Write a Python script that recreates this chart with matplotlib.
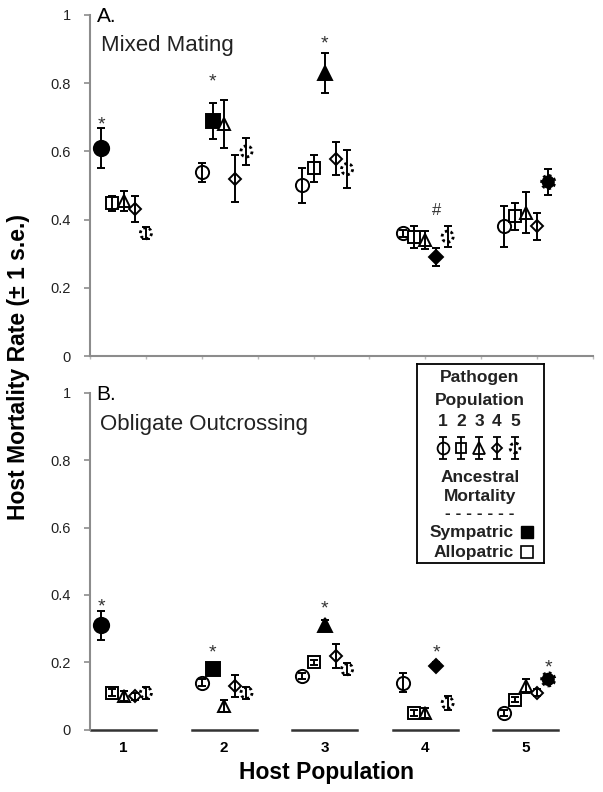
import numpy as np
import matplotlib
matplotlib.use('Agg')
import matplotlib.pyplot as plt

plt.rcParams['font.family'] = ['Liberation Sans', 'DejaVu Sans']

hosts = ['1', '2', '3', '4', '5']

# rows = host population, columns = pathogen population 1..5
mixed_mean = [
    [0.61, 0.448, 0.455, 0.43, 0.36],
    [0.539, 0.69, 0.68, 0.52, 0.60],
    [0.50, 0.55, 0.83, 0.579, 0.548],
    [0.36, 0.35, 0.34, 0.29, 0.35],
    [0.38, 0.41, 0.42, 0.38, 0.51],
]
mixed_se = [
    [0.058, 0.022, 0.03, 0.038, 0.017],
    [0.028, 0.053, 0.07, 0.068, 0.04],
    [0.052, 0.04, 0.058, 0.049, 0.055],
    [0.01, 0.032, 0.027, 0.027, 0.03],
    [0.06, 0.04, 0.06, 0.04, 0.039],
]
outc_mean = [
    [0.31, 0.11, 0.10, 0.10, 0.11],
    [0.14, 0.18, 0.07, 0.13, 0.11],
    [0.16, 0.20, 0.31, 0.22, 0.18],
    [0.14, 0.05, 0.05, 0.19, 0.08],
    [0.05, 0.09, 0.13, 0.11, 0.15],
]
outc_se = [
    [0.043, 0.01, 0.015, 0.01, 0.017],
    [0.01, 0.006, 0.018, 0.032, 0.018],
    [0.01, 0.006, 0.015, 0.036, 0.018],
    [0.028, 0.008, 0.015, 0.01, 0.02],
    [0.008, 0.008, 0.02, 0.01, 0.01],
]

# significance labels (above the sympatric point) and their heights
mixed_sig = ['*', '*', '*', '#', '']
mixed_sig_y = [0.695, 0.822, 0.933, 0.433, np.nan]
outc_sig = ['*', '*', '*', '*', '*']
outc_sig_y = [0.383, 0.245, 0.375, 0.247, 0.20]

markers = ['o', 's', '^', 'D', 'o']
msizes = [9.5, 8, 9, 6, 8]
GRAY = '#8c8c8c'
DOTS = (0, (1, 1.1))


def xpos(g, p):
    return g * 9 + p + 1


def draw_panel(ax, means, ses, sig, sig_y):
    for g in range(5):
        for p in range(5):
            x = xpos(g, p)
            y = means[g][p]
            filled = (g == p)
            fc = 'black' if filled else 'white'
            ms = msizes[p] + (1.5 if filled else 0)
            if p == 4:
                ax.scatter([x], [y], s=ms ** 2, marker='o', facecolors=fc,
                           edgecolors='black', linestyles=[DOTS],
                           linewidths=2.0, zorder=2)
            else:
                ax.plot([x], [y], marker=markers[p], ms=ms, mfc=fc, mec='black',
                        mew=1.4, ls='none', zorder=2)
            ax.errorbar([x], [y], yerr=[ses[g][p]], fmt='none', ecolor='black',
                        elinewidth=1.4, capsize=2.8, capthick=1.4, zorder=3)
        if sig[g]:
            off = -7.5 if sig[g] == '*' else -5
            fs = 14 if sig[g] == '*' else 12
            ax.annotate(sig[g], (xpos(g, g), sig_y[g]), xytext=(0, off),
                        textcoords='offset points', ha='center', va='baseline',
                        fontsize=fs, color='#333333')

    ax.set_xlim(0, 45)
    ax.set_ylim(0, 1)
    ax.set_yticks([0, 0.2, 0.4, 0.6, 0.8, 1])
    ax.set_yticklabels(['0', '0.2', '0.4', '0.6', '0.8', '1'])
    ax.tick_params(axis='y', length=4, width=1.2, color=GRAY, pad=10,
                   labelsize=10.5, labelcolor='#222222')
    for s in ['top', 'right']:
        ax.spines[s].set_visible(False)
    ax.spines['left'].set_color(GRAY)
    ax.spines['left'].set_linewidth(1.5)


fig = plt.figure(figsize=(6.03, 7.92), dpi=100)

ax1 = fig.add_axes([0.1493, 0.5505, 0.834, 0.4306])
draw_panel(ax1, mixed_mean, mixed_se, mixed_sig, mixed_sig_y)
ax1.set_xticks(np.arange(0, 46, 5))
ax1.set_xticklabels([])
ax1.tick_params(axis='x', length=2, width=1, color='#bbbbbb')
ax1.spines['bottom'].set_color(GRAY)
ax1.spines['bottom'].set_linewidth(1.5)
ax1.text(0.6, 0.995, 'A.', fontsize=15, va='center', ha='left')
ax1.text(1.0, 0.91, 'Mixed Mating', fontsize=16, va='center', ha='left',
         color='#222222')

ax2 = fig.add_axes([0.1493, 0.0783, 0.834, 0.4261])
draw_panel(ax2, outc_mean, outc_se, outc_sig, outc_sig_y)
ax2.spines['bottom'].set_visible(False)
centers = [xpos(g, 2) for g in range(5)]
ax2.set_xticks(centers)
ax2.set_xticklabels(hosts, fontweight='bold', fontsize=11)
ax2.tick_params(axis='x', length=0, pad=8)
for c in centers:
    ax2.plot([c - 2.9, c + 2.9], [0, 0], color='#333333', lw=1.8,
             clip_on=False, zorder=1)
ax2.text(0.6, 0.995, 'B.', fontsize=15, va='center', ha='left')
ax2.text(0.9, 0.905, 'Obligate Outcrossing', fontsize=16, va='center',
         ha='left', color='#222222')

fig.text(0.03, 1 - 366.5 / 792, 'Host Mortality Rate (\u00b1 1 s.e.)',
         rotation=90, fontsize=16.5, fontweight='bold', ha='center',
         va='center')
fig.text(326.5 / 603, 1 - 772 / 792, 'Host Population', fontsize=16.5,
         fontweight='bold', ha='center', va='center')

# legend box
leg = fig.add_axes([417 / 603, 1 - 563 / 792, 127 / 603, 199 / 792])
leg.set_xlim(417, 544)
leg.set_ylim(563, 364)
leg.set_xticks([])
leg.set_yticks([])
for s in leg.spines.values():
    s.set_linewidth(1.3)
    s.set_color('black')
kw = dict(fontsize=12.5, fontweight='bold', ha='center', va='center',
          color='#222222')
leg.text(480, 378, 'Pathogen', **kw)
leg.text(480, 400, 'Population', **kw)
lx = [443, 461, 479, 497, 515]
for i in range(5):
    leg.text(lx[i], 422, hosts[i], **kw)
    if i == 4:
        leg.scatter([lx[i]], [448], s=7 ** 2, marker='o', facecolors='white',
                    edgecolors='black', linestyles=[DOTS], linewidths=2.0,
                    zorder=2)
    else:
        leg.plot([lx[i]], [448], marker=markers[i], ms=msizes[i] - 1,
                 mfc='white', mec='black', mew=1.3, zorder=2)
    leg.errorbar([lx[i]], [448], yerr=[11], fmt='none', ecolor='black',
                 elinewidth=1.3, capsize=2.6, capthick=1.3, zorder=3)
leg.text(480, 477, 'Ancestral', **kw)
leg.text(480, 497, 'Mortality', **kw)
leg.text(480, 513, '- - - - - - -', **kw)
kw2 = dict(kw, ha='right')
leg.text(514, 532, 'Sympatric', **kw2)
leg.text(514, 552, 'Allopatric', **kw2)
leg.plot([527], [532], marker='s', ms=8.5, mfc='black', mec='black')
leg.plot([527], [552], marker='s', ms=8.5, mfc='white', mec='black', mew=1.2)

fig.savefig('out.png', dpi=100)
